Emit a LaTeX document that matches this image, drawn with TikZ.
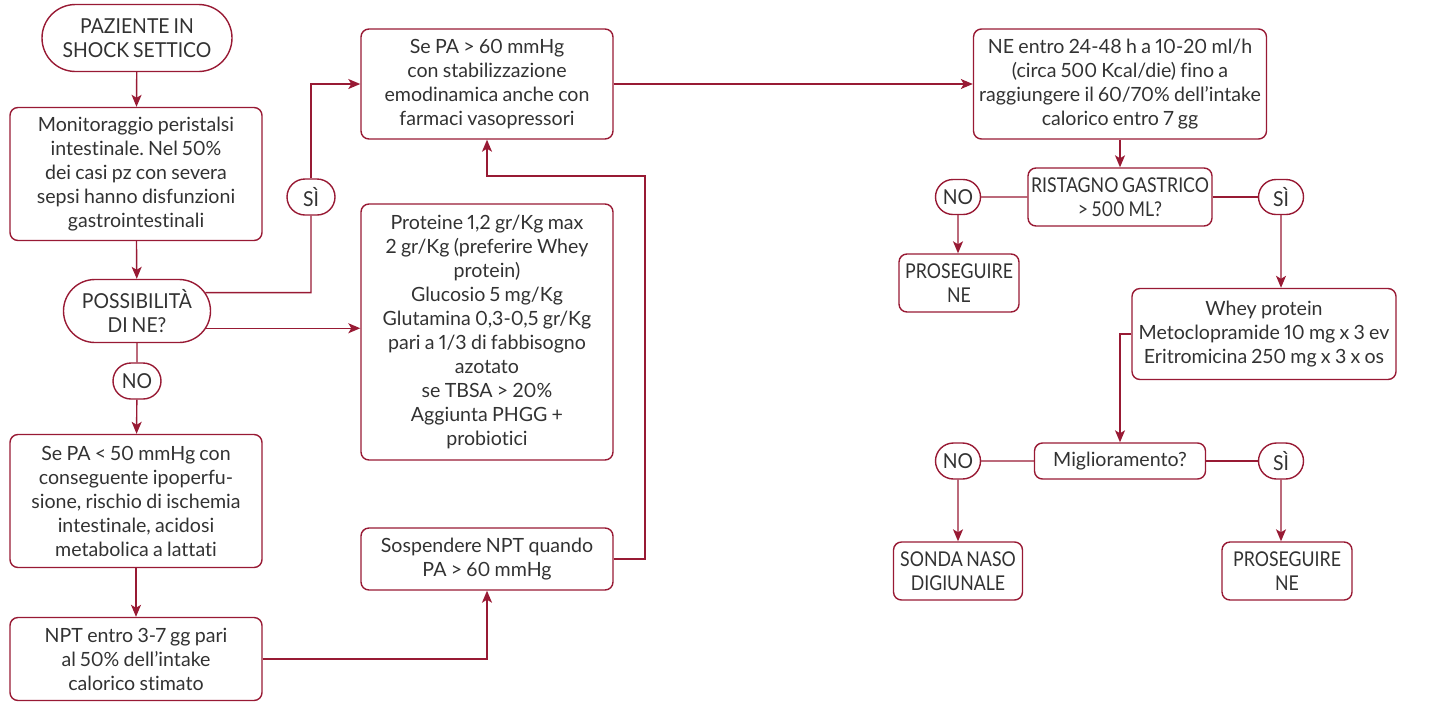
\documentclass[tikz,border=0pt]{standalone}
\usepackage{fontspec}
\setmainfont{Lato}[Ligatures={NoCommon,NoContextual},Numbers=Proportional,WordSpace=0.85]
\newfontfamily\capsf{Lato}[FakeStretch=0.87,Ligatures={NoCommon,NoContextual},Numbers=Proportional,WordSpace=0.8]
\newfontfamily\pillf{Lato}[FakeStretch=0.94,Ligatures={NoCommon,NoContextual},Numbers=Proportional,WordSpace=0.8]
\usetikzlibrary{arrows.meta,shapes.misc,calc}
\definecolor{dr}{RGB}{152,26,52}
\definecolor{tx}{RGB}{50,50,50}
\frenchspacing
\begin{document}
\frenchspacing
\begin{tikzpicture}[x=1pt,y=-1pt,
  every node/.style={font=\fontsize{19.6}{24}\selectfont\frenchspacing, text=tx, align=center, inner sep=0pt},
  caps/.style={font=\fontsize{20.4}{24}\selectfont\capsf},
  box/.style={draw=dr, line width=1.4pt, rounded corners=8pt},
  pill/.style={draw=dr, line width=1.4pt, rounded rectangle, font=\fontsize{20.6}{24}\selectfont\pillf},
  ln/.style={draw=dr, line width=1.4pt},
  arr/.style={ln, -{Stealth[length=12pt,width=10pt,inset=3pt]}}]
\useasboundingbox (0,0) rectangle (1453,702);
% left column
\node[pill, minimum width=190, minimum height=67] (start) at (137,38) {PAZIENTE IN\\SHOCK SETTICO};
\node[box, minimum width=252, minimum height=133] (mon) at (136,174) {Monitoraggio peristalsi\\intestinale. Nel 50\%\\dei casi pz con severa\\sepsi hanno disfunzioni\\gastrointestinali};
\node[pill, minimum width=147, minimum height=63] (poss) at (137,311) {POSSIBILITÀ\\DI NE?};
\node[pill, minimum width=48, minimum height=36] (no1) at (137,381) {NO};
\node[box, minimum width=252, minimum height=133] (pa50) at (136,501) {Se PA < 50 mmHg con\\conseguente ipoperfu-\\sione, rischio di ischemia\\intestinale, acidosi\\metabolica a lattati};
\node[box, minimum width=252, minimum height=83] (npt) at (136,659) {NPT entro 3-7 gg pari\\al 50\% dell’intake\\calorico stimato};
% middle column
\node[pill, minimum width=48, minimum height=36] (si1) at (311,197) {SÌ};
\node[box, minimum width=252, minimum height=110] (pa60) at (487,84) {Se PA > 60 mmHg\\con stabilizzazione\\emodinamica anche con\\farmaci vasopressori};
\node[box, minimum width=252, minimum height=256] (prot) at (487,332) {Proteine 1,2 gr/Kg max\\2 gr/Kg (preferire Whey\\protein)\\Glucosio 5 mg/Kg\\Glutamina 0,3-0,5 gr/Kg\\pari a 1/3 di fabbisogno\\azotato\\se TBSA > 20\%\\Aggiunta PHGG +\\probiotici};
\node[box, minimum width=252, minimum height=62] (sosp) at (487,559) {Sospendere NPT quando\\PA > 60 mmHg};
\coordinate (c1) at (645,176);
% right part
\node[box, minimum width=293, minimum height=110] (ne) at (1120,84) {NE entro 24-48 h a 10-20 ml/h\\(circa 500 Kcal/die) fino a\\raggiungere il 60/70\% dell’intake\\calorico entro 7 gg};
\node[box, caps, minimum width=184, minimum height=58] (rist) at (1120,197) {RISTAGNO GASTRICO\\> 500 ML?};
\node[pill, minimum width=45, minimum height=35] (no2) at (958,197) {NO};
\node[pill, minimum width=45, minimum height=35] (si2) at (1281,197) {SÌ};
\node[box, caps, minimum width=120, minimum height=58] (pros1) at (959,283) {PROSEGUIRE\\NE};
\node[box, minimum width=264, minimum height=91] (whey) at (1264,334) {Whey protein\\Metoclopramide 10 mg x 3 ev\\Eritromicina 250 mg x 3 x os};
\node[box, minimum width=171, minimum height=36] (migl) at (1120,461) {Miglioramento?};
\node[pill, minimum width=45, minimum height=36] (no3) at (958,461) {NO};
\node[pill, minimum width=45, minimum height=36] (si3) at (1281,461) {SÌ};
\node[box, caps, minimum width=129, minimum height=58] (sonda) at (958,571) {SONDA NASO\\DIGIUNALE};
\node[box, caps, minimum width=130, minimum height=58] (pros2) at (1287,571) {PROSEGUIRE\\NE};
% connectors
\draw[arr] (start) -- (mon);
\draw[arr] (mon) -- (poss);
\draw[ln] (poss) -- (no1);
\draw[arr] (no1) -- (pa50);
\draw[arr] (pa50) -- (npt);
\draw[arr] (npt.east) -| (sosp.south);
\draw[ln] (poss.15) -- (poss.15 -| si1) -- (si1);
\draw[arr] (si1) |- (pa60.west);
\draw[arr] (poss.-14) -- (poss.-14 -| prot.west);
\draw[arr] (sosp.east) -| (c1) -| (pa60.south);
\draw[arr] (pa60.east) -- (ne.west);
\draw[arr] (ne) -- (rist);
\draw[ln] (rist) -- (no2);
\draw[arr] (no2) -- (no2 |- pros1.north);
\draw[ln] (rist) -- (si2);
\draw[arr] (si2) -- (si2 |- whey.north);
\draw[arr] (whey.west) -| (migl.north);
\draw[ln] (migl) -- (no3);
\draw[arr] (no3) -- (sonda);
\draw[ln] (migl) -- (si3);
\draw[arr] (si3) -- (si3 |- pros2.north);
\end{tikzpicture}
\end{document}
